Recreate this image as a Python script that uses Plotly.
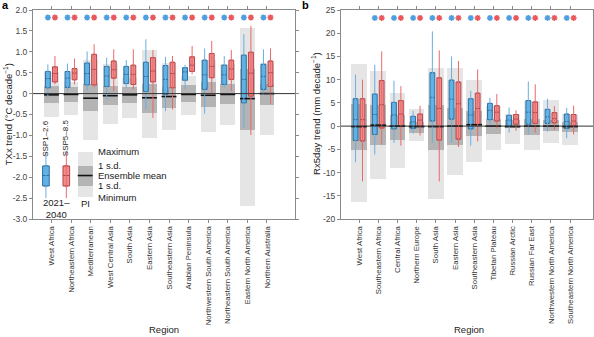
import plotly.graph_objects as go

# ---------------- Panel a: TXx trends ----------------
regions_a = ["West Africa", "Northeastern Africa", "Mediterranean", "West Central Asia",
             "South Asia", "Eastern Asia", "Southeastern Asia", "Arabian Peninsula",
             "Northwestern South America", "Northeastern South America",
             "Eastern North America", "Northern Australia"]

a126_lo = [-0.10, 0.05, 0.08, -0.15, 0.14, -0.38, -0.42, 0.10, -0.48, 0.14, -0.82, -0.03]
a126_q1 = [0.14, 0.15, 0.21, 0.17, 0.24, 0.05, -0.02, 0.32, 0.10, 0.22, -0.22, 0.10]
a126_md = [0.36, 0.37, 0.48, 0.42, 0.46, 0.41, 0.34, 0.52, 0.45, 0.45, 0.34, 0.41]
a126_q3 = [0.53, 0.53, 0.73, 0.65, 0.65, 0.75, 0.67, 0.62, 0.80, 0.68, 0.92, 0.70]
a126_hi = [0.70, 0.72, 1.01, 0.86, 0.80, 1.30, 0.88, 0.69, 1.08, 0.90, 1.42, 1.06]

a585_lo = [0.22, 0.22, 0.15, 0.06, 0.10, -0.58, -0.38, 0.46, -0.02, 0.06, -0.99, -0.24]
a585_q1 = [0.28, 0.33, 0.21, 0.37, 0.22, 0.28, 0.14, 0.53, 0.38, 0.34, -0.06, 0.17]
a585_md = [0.48, 0.49, 0.58, 0.57, 0.46, 0.54, 0.48, 0.68, 0.65, 0.59, 0.49, 0.50]
a585_q3 = [0.64, 0.60, 0.94, 0.78, 0.68, 0.86, 0.75, 0.88, 0.96, 0.80, 0.99, 0.78]
a585_hi = [0.90, 0.84, 1.18, 1.06, 1.06, 1.04, 0.90, 1.14, 1.26, 1.04, 1.62, 1.08]

a_pi_min = [-0.56, -0.51, -1.11, -0.72, -0.59, -1.06, -0.87, -0.51, -0.91, -0.75, -2.70, -1.00]
a_pi_sdlo = [-0.22, -0.19, -0.42, -0.27, -0.22, -0.46, -0.35, -0.19, -0.32, -0.25, -0.87, -0.28]
a_pi_mean = [-0.03, -0.02, -0.11, -0.05, -0.03, -0.10, -0.07, -0.02, -0.04, -0.02, -0.12, 0.00]
a_pi_sdhi = [0.18, 0.15, 0.22, 0.18, 0.16, 0.22, 0.16, 0.20, 0.28, 0.24, 0.58, 0.22]
a_pi_max = [0.52, 0.28, 0.80, 0.70, 0.38, 1.04, 0.74, 0.42, 0.80, 0.72, 1.56, 0.74]

a_sig126 = [True] * 12
a_sig585 = [True] * 12

# ---------------- Panel b: Rx5day trends ----------------
regions_b = ["West Africa", "Southeastern Africa", "Central Africa", "Northern Europe",
             "South Asia", "Eastern Asia", "Southeastern Asia", "Tibetan Plateau",
             "Russian Arctic", "Russian Far East", "Northwestern North America",
             "Southeastern North America"]

b126_lo = [-7.8, -6.1, -3.6, -1.6, -3.6, -3.6, -4.2, 0.5, -1.4, -1.8, -1.2, -2.6]
b126_q1 = [-3.1, -1.8, -0.6, -0.5, 1.1, 1.5, -0.6, 1.4, 0.0, 0.4, 0.6, -0.5]
b126_md = [1.4, 2.5, 2.4, 0.9, 6.2, 5.8, 2.4, 3.4, 1.3, 3.0, 2.0, 1.0]
b126_q3 = [5.9, 6.9, 5.1, 2.1, 11.5, 9.9, 5.9, 4.9, 2.3, 5.5, 3.6, 2.6]
b126_hi = [11.1, 13.2, 9.8, 3.3, 20.4, 15.0, 7.6, 6.1, 4.0, 9.6, 5.9, 3.9]

b585_lo = [-11.9, -4.0, -4.2, -2.0, -11.9, -4.5, -3.3, -0.5, -1.0, -1.4, -0.8, -1.8]
b585_q1 = [-3.2, -0.4, -0.1, 0.0, -3.0, -2.8, 0.2, 1.1, 0.4, 0.6, 0.7, 0.0]
b585_md = [1.4, 4.6, 2.6, 1.3, 3.8, 4.8, 3.8, 3.0, 1.5, 2.9, 1.6, 1.1]
b585_q3 = [5.9, 9.8, 5.5, 2.6, 10.4, 9.5, 7.1, 4.4, 2.5, 5.2, 2.9, 2.5]
b585_hi = [10.0, 16.1, 8.6, 4.4, 16.3, 14.0, 12.2, 6.9, 3.4, 9.0, 4.3, 4.4]

b_pi_min = [-16.4, -11.3, -9.1, -3.3, -15.8, -10.6, -7.8, -5.2, -3.8, -5.2, -3.6, -4.0]
b_pi_sdlo = [-5.2, -4.0, -2.9, -1.4, -5.2, -4.0, -2.2, -1.8, -0.4, -2.0, -1.0, -1.2]
b_pi_mean = [-0.1, 0.2, 0.0, -0.1, -0.1, 0.0, 0.3, 0.0, -0.1, 0.0, 0.0, -0.1]
b_pi_sdhi = [4.7, 4.5, 2.5, 0.9, 4.5, 3.8, 3.3, 1.5, 1.3, 1.6, 1.3, 0.9]
b_pi_max = [13.4, 11.8, 7.1, 3.7, 12.6, 12.6, 10.0, 4.4, 2.6, 5.4, 5.6, 2.6]

b_sig126 = [False] + [True] * 11
b_sig585 = [False] + [True] * 11

# Legend glyph values (panel a units): low, q1, median, q3, high
legend_ssp = [-2.5, -2.21, -1.96, -1.73, -1.40]
legend_pi = [-2.48, -2.21, -1.96, -1.72, -1.39]

# ---------------- Styling ----------------
FONT = "Liberation Sans"
BLUE_FILL, BLUE_LINE, BLUE_WHISK = "#5db3e6", "#2f6f9f", "#6aaee2"
RED_FILL, RED_LINE, RED_WHISK = "#f08c8c", "#b8454a", "#e86a6a"
BLUE_STAR, RED_STAR = "#4d9fe0", "#e8585c"
LIGHT_GREY, DARK_GREY = "#e5e5e5", "#b4b4b4"
AXIS_GREY = "#8a8a8a"
OFF = 0.18          # offset of SSP boxes from the category centre
BOX_W = 0.25
PI_W = 0.76

fig = go.Figure()


def whisker_xy(xs, lo, hi):
    x, y = [], []
    for xi, l, h in zip(xs, lo, hi):
        x += [xi, xi, None]
        y += [l, h, None]
    return x, y


def mean_xy(xs, m, w):
    x, y = [], []
    for xi, v in zip(xs, m):
        x += [xi - w / 2, xi + w / 2, None]
        y += [v, v, None]
    return x, y


def add_panel(xref, yref, n, pi, ssp126, ssp585, sig126, sig585, star_y, pi_w):
    idx = list(range(n))
    pmin, sdlo, pmean, sdhi, pmax = pi
    fig.add_trace(go.Bar(x=idx, y=[h - l for l, h in zip(pmin, pmax)], base=pmin,
                         width=pi_w, marker=dict(color=LIGHT_GREY, line=dict(width=0)),
                         xaxis=xref, yaxis=yref, hoverinfo="skip"))
    fig.add_trace(go.Bar(x=idx, y=[h - l for l, h in zip(sdlo, sdhi)], base=sdlo,
                         width=pi_w, marker=dict(color=DARK_GREY, line=dict(width=0)),
                         xaxis=xref, yaxis=yref, hoverinfo="skip"))
    mx, my = mean_xy(idx, pmean, pi_w)
    fig.add_trace(go.Scatter(x=mx, y=my, mode="lines", line=dict(color="#111", width=1.6),
                             xaxis=xref, yaxis=yref, hoverinfo="skip"))
    for stats, off, fill, line, wcol, scol, sig in (
            (ssp126, -OFF, BLUE_FILL, BLUE_LINE, BLUE_WHISK, BLUE_STAR, sig126),
            (ssp585, OFF, RED_FILL, RED_LINE, RED_WHISK, RED_STAR, sig585)):
        lo, q1, md, q3, hi = stats
        xs = [i + off for i in idx]
        wx, wy = whisker_xy(xs, lo, hi)
        fig.add_trace(go.Scatter(x=wx, y=wy, mode="lines", line=dict(color=wcol, width=1),
                                 xaxis=xref, yaxis=yref, hoverinfo="skip"))
        fig.add_trace(go.Box(x=xs, q1=q1, median=md, q3=q3, lowerfence=q1, upperfence=q3,
                             width=BOX_W, fillcolor=fill, line=dict(color=line, width=1),
                             boxpoints=False, xaxis=xref, yaxis=yref, hoverinfo="skip"))
        sx = [x for x, s in zip(xs, sig) if s]
        fig.add_trace(go.Scatter(x=sx, y=[star_y] * len(sx), mode="markers",
                                 marker=dict(symbol="asterisk", size=5, color=scol,
                                             line=dict(color=scol, width=1.5)),
                                 xaxis=xref, yaxis=yref, hoverinfo="skip"))


add_panel("x", "y", 12,
          (a_pi_min, a_pi_sdlo, a_pi_mean, a_pi_sdhi, a_pi_max),
          (a126_lo, a126_q1, a126_md, a126_q3, a126_hi),
          (a585_lo, a585_q1, a585_md, a585_q3, a585_hi),
          a_sig126, a_sig585, 1.82, PI_W)
add_panel("x2", "y2", 12,
          (b_pi_min, b_pi_sdlo, b_pi_mean, b_pi_sdhi, b_pi_max),
          (b126_lo, b126_q1, b126_md, b126_q3, b126_hi),
          (b585_lo, b585_q1, b585_md, b585_q3, b585_hi),
          b_sig126, b_sig585, 23.3, 0.82)

# ---------------- In-panel legend (panel a) ----------------
leg_blue_x, leg_red_x, leg_pi_x = -0.28, 0.76, 1.72
for lx, fill, line, wcol in ((leg_blue_x, BLUE_FILL, BLUE_LINE, BLUE_WHISK),
                             (leg_red_x, RED_FILL, RED_LINE, RED_WHISK)):
    lo, q1, md, q3, hi = legend_ssp
    fig.add_trace(go.Scatter(x=[lx, lx], y=[lo, hi], mode="lines",
                             line=dict(color=wcol, width=1), hoverinfo="skip"))
    fig.add_trace(go.Box(x=[lx], q1=[q1], median=[md], q3=[q3], lowerfence=[q1],
                         upperfence=[q3], width=0.34, fillcolor=fill,
                         line=dict(color=line, width=1), boxpoints=False, hoverinfo="skip"))
p_lo, p_sdlo, p_mean, p_sdhi, p_hi = legend_pi
fig.add_trace(go.Bar(x=[leg_pi_x], y=[p_hi - p_lo], base=[p_lo], width=PI_W,
                     marker=dict(color=LIGHT_GREY, line=dict(width=0)), hoverinfo="skip"))
fig.add_trace(go.Bar(x=[leg_pi_x], y=[p_sdhi - p_sdlo], base=[p_sdlo], width=PI_W,
                     marker=dict(color=DARK_GREY, line=dict(width=0)), hoverinfo="skip"))
fig.add_trace(go.Scatter(x=[leg_pi_x - PI_W / 2, leg_pi_x + PI_W / 2], y=[p_mean, p_mean],
                         mode="lines", line=dict(color="#111", width=1.6), hoverinfo="skip"))

legend_text = [("Maximum", p_hi), ("1 s.d.", p_sdhi), ("Ensemble mean", p_mean),
               ("1 s.d.", p_sdlo), ("Minimum", p_lo)]
ann = []
TXT = "#222"
for t, yv in legend_text:
    ann.append(dict(x=2.3, y=yv, xref="x", yref="y", text=t, showarrow=False,
                    xanchor="left", yanchor="middle", font=dict(family=FONT, size=9.5, color=TXT)))
ann.append(dict(x=leg_blue_x, y=-1.55, xref="x", yref="y", text="SSP1–2.6", textangle=-90,
                showarrow=False, xanchor="center", yanchor="bottom",
                font=dict(family=FONT, size=8, color=TXT)))
ann.append(dict(x=leg_red_x, y=-1.55, xref="x", yref="y", text="SSP5–8.5", textangle=-90,
                showarrow=False, xanchor="center", yanchor="bottom",
                font=dict(family=FONT, size=8, color=TXT)))
ann.append(dict(x=0.24, y=-2.74, xref="x", yref="y", text="2021–<br>2040", showarrow=False,
                xanchor="center", yanchor="middle", font=dict(family=FONT, size=9.5, color=TXT)))
ann.append(dict(x=leg_pi_x, y=-2.62, xref="x", yref="y", text="PI", showarrow=False,
                xanchor="center", yanchor="middle", font=dict(family=FONT, size=9.5, color=TXT)))

# Axis titles and panel letters
ann.append(dict(x=0.014, y=0.662, xref="paper", yref="paper",
                text="TXx trend (°C decade<sup>−1</sup>)", textangle=-90, showarrow=False,
                xanchor="center", yanchor="middle", font=dict(family=FONT, size=9.5, color=TXT)))
ann.append(dict(x=0.532, y=0.662, xref="paper", yref="paper",
                text="Rx5day trend (mm decade<sup>−1</sup>)", textangle=-90, showarrow=False,
                xanchor="center", yanchor="middle", font=dict(family=FONT, size=9.5, color=TXT)))
ann.append(dict(x=0.276, y=0.0, xref="paper", yref="paper", text="Region", showarrow=False,
                xanchor="center", yanchor="bottom", font=dict(family=FONT, size=9.5, color=TXT)))
ann.append(dict(x=0.79, y=0.0, xref="paper", yref="paper", text="Region", showarrow=False,
                xanchor="center", yanchor="bottom", font=dict(family=FONT, size=9.5, color=TXT)))
ann.append(dict(x=0.0, y=1.01, xref="paper", yref="paper", text="<b>a</b>", showarrow=False,
                xanchor="left", yanchor="top", font=dict(family=FONT, size=11, color="#000")))
ann.append(dict(x=0.505, y=1.01, xref="paper", yref="paper", text="<b>b</b>", showarrow=False,
                xanchor="left", yanchor="top", font=dict(family=FONT, size=11, color="#000")))

ya_vals = [2.0, 1.5, 1.0, 0.5, 0, -0.5, -1.0, -1.5, -2.0, -2.5, -3.0]
ya_text = ["2.0", "1.5", "1.0", "0.5", "0", "-0.5", "-1.0", "-1.5", "-2.0", "-2.5", "-3.0"]
yb_vals = [25, 20, 15, 10, 5, 0, -5, -10, -15, -20]
yb_text = ["25", "20", "15", "10", "5", "0", "-5", "-10", "-15", "-20"]

axis_common = dict(showline=True, linecolor=AXIS_GREY, linewidth=1, mirror="ticks",
                   ticks="outside", ticklen=3, tickcolor=AXIS_GREY, showgrid=False,
                   zeroline=False, automargin=False)

fig.update_layout(
    width=594, height=337, margin=dict(l=0, r=0, t=0, b=0),
    paper_bgcolor="white", plot_bgcolor="white", showlegend=False,
    barmode="overlay", boxmode="overlay", bargap=0,
    xaxis=dict(domain=[33 / 594, 295 / 594], range=[-0.94, 12.43],
               tickvals=list(range(12)), ticktext=regions_a, tickangle=-90,
               tickfont=dict(family=FONT, size=7.8, color="#333"), anchor="y", **axis_common),
    yaxis=dict(domain=[118 / 337, 327 / 337], range=[-3.0, 2.0], tickvals=ya_vals,
               ticktext=ya_text, tickfont=dict(family=FONT, size=8.5, color="#444"),
               anchor="x", **axis_common),
    xaxis2=dict(domain=[341 / 594, 593 / 594], range=[-0.94, 12.19],
                tickvals=list(range(12)), ticktext=regions_b, tickangle=-90,
                tickfont=dict(family=FONT, size=7.8, color="#333"), anchor="y2", **axis_common),
    yaxis2=dict(domain=[118 / 337, 327 / 337], range=[-20, 25], tickvals=yb_vals,
                ticktext=yb_text, tickfont=dict(family=FONT, size=8.5, color="#444"),
                anchor="x2", **axis_common),
    annotations=ann,
    shapes=[
        dict(type="line", xref="x domain", yref="y", x0=0, x1=1, y0=0, y1=0,
             line=dict(color="#333", width=1), layer="above"),
        dict(type="line", xref="x2 domain", yref="y2", x0=0, x1=1, y0=0, y1=0,
             line=dict(color="#333", width=1), layer="above"),
    ],
)

fig.write_html("out.html")
